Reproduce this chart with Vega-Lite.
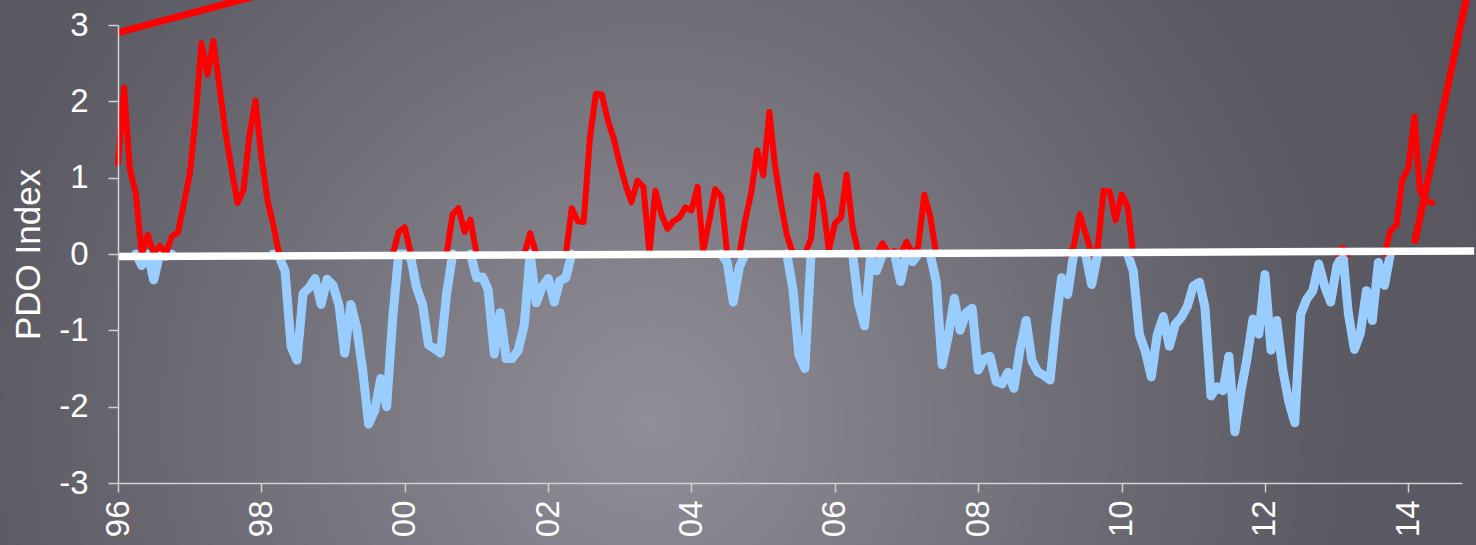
{
  "$schema": "https://vega.github.io/schema/vega-lite/v6.json",
  "width": 1344,
  "height": 458,
  "autosize": {"type": "none"},
  "padding": {"left": 118, "top": 25, "right": 14, "bottom": 62},
  "background": "#5a5860",
  "config": {
    "view": {"stroke": null},
    "axis": {
      "grid": false,
      "domainColor": "#d2d2d2",
      "domainWidth": 1.5,
      "tickColor": "#d2d2d2",
      "tickWidth": 1.5,
      "labelColor": "#ffffff",
      "labelFont": "Liberation Sans",
      "labelFontSize": 33,
      "titleFont": "Liberation Sans",
      "titleColor": "#ffffff",
      "titleFontWeight": "normal"
    }
  },
  "datasets": {
    "pdo": [
      {"date": "1996-01", "red": 1.19}, {"date": "1996-02", "red": 2.18}, {"date": "1996-03", "red": 1.12}, {"date": "1996-04", "red": 0.79, "blue": 0},
      {"date": "1996-05", "red": 0, "blue": -0.15}, {"date": "1996-06", "red": 0.25, "blue": 0}, {"date": "1996-07", "red": 0, "blue": -0.34}, {"date": "1996-08", "red": 0.11, "blue": 0},
      {"date": "1996-09", "red": 0, "blue": -0.03}, {"date": "1996-10", "red": 0.23, "blue": 0}, {"date": "1996-11", "red": 0.28}, {"date": "1996-12", "red": 0.65},
      {"date": "1997-01", "red": 1.05}, {"date": "1997-02", "red": 1.83}, {"date": "1997-03", "red": 2.76}, {"date": "1997-04", "red": 2.35},
      {"date": "1997-05", "red": 2.79}, {"date": "1997-06", "red": 2.19}, {"date": "1997-07", "red": 1.61}, {"date": "1997-08", "red": 1.12},
      {"date": "1997-09", "red": 0.67}, {"date": "1997-10", "red": 0.83}, {"date": "1997-11", "red": 1.56}, {"date": "1997-12", "red": 2.01},
      {"date": "1998-01", "red": 1.27}, {"date": "1998-02", "red": 0.70}, {"date": "1998-03", "red": 0.40, "blue": 0}, {"date": "1998-04", "red": 0, "blue": -0.04},
      {"date": "1998-05", "blue": -0.22}, {"date": "1998-06", "blue": -1.21}, {"date": "1998-07", "blue": -1.39}, {"date": "1998-08", "blue": -0.52},
      {"date": "1998-09", "blue": -0.44}, {"date": "1998-10", "blue": -0.32}, {"date": "1998-11", "blue": -0.66}, {"date": "1998-12", "blue": -0.33},
      {"date": "1999-01", "blue": -0.41}, {"date": "1999-02", "blue": -0.68}, {"date": "1999-03", "blue": -1.30}, {"date": "1999-04", "blue": -0.66},
      {"date": "1999-05", "blue": -0.96}, {"date": "1999-06", "blue": -1.53}, {"date": "1999-07", "blue": -2.23}, {"date": "1999-08", "blue": -2.05},
      {"date": "1999-09", "blue": -1.63}, {"date": "1999-10", "blue": -2.00}, {"date": "1999-11", "red": 0, "blue": -0.83}, {"date": "1999-12", "red": 0.29, "blue": 0},
      {"date": "2000-01", "red": 0.35, "blue": 0}, {"date": "2000-02", "red": 0, "blue": -0.05}, {"date": "2000-03", "blue": -0.44}, {"date": "2000-04", "blue": -0.66},
      {"date": "2000-05", "blue": -1.19}, {"date": "2000-06", "blue": -1.24}, {"date": "2000-07", "blue": -1.30}, {"date": "2000-08", "red": 0, "blue": -0.53},
      {"date": "2000-09", "red": 0.52, "blue": 0}, {"date": "2000-10", "red": 0.60}, {"date": "2000-11", "red": 0.29}, {"date": "2000-12", "red": 0.45, "blue": 0},
      {"date": "2001-01", "red": 0, "blue": -0.31}, {"date": "2001-02", "blue": -0.30}, {"date": "2001-03", "blue": -0.47}, {"date": "2001-04", "blue": -1.31},
      {"date": "2001-05", "blue": -0.77}, {"date": "2001-06", "blue": -1.37}, {"date": "2001-07", "blue": -1.37}, {"date": "2001-08", "blue": -1.26},
      {"date": "2001-09", "red": 0, "blue": -0.93}, {"date": "2001-10", "red": 0.27, "blue": 0}, {"date": "2001-11", "red": 0, "blue": -0.64}, {"date": "2001-12", "blue": -0.43},
      {"date": "2002-01", "blue": -0.32}, {"date": "2002-02", "blue": -0.63}, {"date": "2002-03", "blue": -0.35}, {"date": "2002-04", "red": 0, "blue": -0.31},
      {"date": "2002-05", "red": 0.60, "blue": 0}, {"date": "2002-06", "red": 0.43}, {"date": "2002-07", "red": 0.42}, {"date": "2002-08", "red": 1.51},
      {"date": "2002-09", "red": 2.10}, {"date": "2002-10", "red": 2.09}, {"date": "2002-11", "red": 1.75}, {"date": "2002-12", "red": 1.51},
      {"date": "2003-01", "red": 1.18}, {"date": "2003-02", "red": 0.89}, {"date": "2003-03", "red": 0.68}, {"date": "2003-04", "red": 0.96},
      {"date": "2003-05", "red": 0.88}, {"date": "2003-06", "red": 0.01}, {"date": "2003-07", "red": 0.83}, {"date": "2003-08", "red": 0.52},
      {"date": "2003-09", "red": 0.33}, {"date": "2003-10", "red": 0.43}, {"date": "2003-11", "red": 0.48}, {"date": "2003-12", "red": 0.61},
      {"date": "2004-01", "red": 0.57}, {"date": "2004-02", "red": 0.88}, {"date": "2004-03", "red": 0.04}, {"date": "2004-04", "red": 0.44},
      {"date": "2004-05", "red": 0.85}, {"date": "2004-06", "red": 0.75, "blue": 0}, {"date": "2004-07", "red": 0, "blue": -0.11}, {"date": "2004-08", "blue": -0.63},
      {"date": "2004-09", "red": 0, "blue": -0.17}, {"date": "2004-10", "red": 0.44, "blue": 0}, {"date": "2004-11", "red": 0.81}, {"date": "2004-12", "red": 1.36},
      {"date": "2005-01", "red": 1.03}, {"date": "2005-02", "red": 1.86}, {"date": "2005-03", "red": 1.17}, {"date": "2005-04", "red": 0.66},
      {"date": "2005-05", "red": 0.25, "blue": 0}, {"date": "2005-06", "red": 0, "blue": -0.46}, {"date": "2005-07", "blue": -1.32}, {"date": "2005-08", "red": 0, "blue": -1.50},
      {"date": "2005-09", "red": 0.20, "blue": 0}, {"date": "2005-10", "red": 1.03}, {"date": "2005-11", "red": 0.66}, {"date": "2005-12", "red": 0.05},
      {"date": "2006-01", "red": 0.40}, {"date": "2006-02", "red": 0.48}, {"date": "2006-03", "red": 1.04}, {"date": "2006-04", "red": 0.35, "blue": 0},
      {"date": "2006-05", "red": 0, "blue": -0.65}, {"date": "2006-06", "blue": -0.94}, {"date": "2006-07", "blue": -0.05}, {"date": "2006-08", "red": 0, "blue": -0.22},
      {"date": "2006-09", "red": 0.14, "blue": 0}, {"date": "2006-10", "red": 0.01}, {"date": "2006-11", "red": 0.04, "blue": 0}, {"date": "2006-12", "red": 0, "blue": -0.36},
      {"date": "2007-01", "red": 0.16, "blue": 0}, {"date": "2007-02", "red": 0, "blue": -0.10}, {"date": "2007-03", "red": 0.09, "blue": 0}, {"date": "2007-04", "red": 0.78},
      {"date": "2007-05", "red": 0.50, "blue": 0}, {"date": "2007-06", "red": 0, "blue": -0.36}, {"date": "2007-07", "blue": -1.45}, {"date": "2007-08", "blue": -1.08},
      {"date": "2007-09", "blue": -0.58}, {"date": "2007-10", "blue": -1.00}, {"date": "2007-11", "blue": -0.77}, {"date": "2007-12", "blue": -0.71},
      {"date": "2008-01", "blue": -1.52}, {"date": "2008-02", "blue": -1.37}, {"date": "2008-03", "blue": -1.34}, {"date": "2008-04", "blue": -1.67},
      {"date": "2008-05", "blue": -1.70}, {"date": "2008-06", "blue": -1.55}, {"date": "2008-07", "blue": -1.76}, {"date": "2008-08", "blue": -1.25},
      {"date": "2008-09", "blue": -0.87}, {"date": "2008-10", "blue": -1.40}, {"date": "2008-11", "blue": -1.55}, {"date": "2008-12", "blue": -1.59},
      {"date": "2009-01", "blue": -1.65}, {"date": "2009-02", "blue": -0.88}, {"date": "2009-03", "blue": -0.31}, {"date": "2009-04", "red": 0, "blue": -0.53},
      {"date": "2009-05", "red": 0.09, "blue": 0}, {"date": "2009-06", "red": 0.52}, {"date": "2009-07", "red": 0.27, "blue": 0}, {"date": "2009-08", "red": 0, "blue": -0.40},
      {"date": "2009-09", "red": 0.08, "blue": 0}, {"date": "2009-10", "red": 0.83}, {"date": "2009-11", "red": 0.82}, {"date": "2009-12", "red": 0.44},
      {"date": "2010-01", "red": 0.78}, {"date": "2010-02", "red": 0.62, "blue": 0}, {"date": "2010-03", "red": 0, "blue": -0.22}, {"date": "2010-04", "blue": -1.05},
      {"date": "2010-05", "blue": -1.27}, {"date": "2010-06", "blue": -1.61}, {"date": "2010-07", "blue": -1.06}, {"date": "2010-08", "blue": -0.82},
      {"date": "2010-09", "blue": -1.21}, {"date": "2010-10", "blue": -0.92}, {"date": "2010-11", "blue": -0.83}, {"date": "2010-12", "blue": -0.69},
      {"date": "2011-01", "blue": -0.42}, {"date": "2011-02", "blue": -0.37}, {"date": "2011-03", "blue": -0.69}, {"date": "2011-04", "blue": -1.86},
      {"date": "2011-05", "blue": -1.74}, {"date": "2011-06", "blue": -1.79}, {"date": "2011-07", "blue": -1.34}, {"date": "2011-08", "blue": -2.33},
      {"date": "2011-09", "blue": -1.79}, {"date": "2011-10", "blue": -1.38}, {"date": "2011-11", "blue": -0.85}, {"date": "2011-12", "blue": -1.05},
      {"date": "2012-01", "blue": -0.27}, {"date": "2012-02", "blue": -1.26}, {"date": "2012-03", "blue": -0.87}, {"date": "2012-04", "blue": -1.52},
      {"date": "2012-05", "blue": -1.93}, {"date": "2012-06", "blue": -2.21}, {"date": "2012-07", "blue": -0.79}, {"date": "2012-08", "blue": -0.59},
      {"date": "2012-09", "blue": -0.48}, {"date": "2012-10", "blue": -0.13}, {"date": "2012-11", "blue": -0.43}, {"date": "2012-12", "blue": -0.63},
      {"date": "2013-01", "red": 0, "blue": -0.16}, {"date": "2013-02", "red": 0.08, "blue": 0}, {"date": "2013-03", "red": 0, "blue": -0.78}, {"date": "2013-04", "blue": -1.25},
      {"date": "2013-05", "blue": -1.04}, {"date": "2013-06", "blue": -0.48}, {"date": "2013-07", "blue": -0.87}, {"date": "2013-08", "blue": -0.11},
      {"date": "2013-09", "red": 0, "blue": -0.41}, {"date": "2013-10", "red": 0.30, "blue": 0}, {"date": "2013-11", "red": 0.38}, {"date": "2013-12", "red": 0.97},
      {"date": "2014-01", "red": 1.13}, {"date": "2014-02", "red": 1.80}, {"date": "2014-03", "red": 0.82}, {"date": "2014-04", "red": 0.70},
      {"date": "2014-05", "red": 0.67}
    ],
    "zero": [
      {"date": "1996-01-01", "v": -0.034},
      {"date": "2014-12-02", "v": 0.039}
    ],
    "trend": [
      {"seg": "a", "date": "1996-01-01", "v": 2.90},
      {"seg": "a", "date": "1998-01-01", "v": 3.40},
      {"seg": "b", "date": "2014-02-01", "v": 0.14},
      {"seg": "b", "date": "2014-11-01", "v": 3.45}
    ]
  },
  "data": {"name": "pdo"},
  "layer": [
    {
      "data": {"values": [{}]},
      "mark": {
        "type": "rect",
        "fill": {
          "gradient": "radial",
          "x1": 0.44, "y1": 0.6, "r1": 0,
          "x2": 0.44, "y2": 0.6, "r2": 0.65,
          "stops": [
            {"offset": 0, "color": "#918e97"},
            {"offset": 0.42, "color": "#706e76"},
            {"offset": 0.7, "color": "#5c5a62"},
            {"offset": 1, "color": "#56545c"}
          ]
        },
        "stroke": null
      },
      "encoding": {
        "x": {
          "datum": {"year": 1994, "month": 5, "date": 10, "utc": true},
          "type": "temporal",
          "scale": {
            "type": "utc",
            "domain": [
              {"year": 1996, "month": 1, "date": 1, "utc": true},
              {"year": 2014, "month": 10, "date": 1, "utc": true}
            ]
          },
          "axis": {
            "zindex": 2,
            "title": null,
            "values": [
              {"year": 1996, "utc": true}, {"year": 1998, "utc": true}, {"year": 2000, "utc": true},
              {"year": 2002, "utc": true}, {"year": 2004, "utc": true}, {"year": 2006, "utc": true},
              {"year": 2008, "utc": true}, {"year": 2010, "utc": true}, {"year": 2012, "utc": true},
              {"year": 2014, "utc": true}
            ],
            "labelExpr": "utcFormat(datum.value, '%y')",
            "labelAngle": -90,
            "tickSize": 9,
            "labelPadding": 8,
            "labelOverlap": false
          }
        },
        "x2": {"datum": {"year": 2014, "month": 12, "date": 14, "utc": true}},
        "y": {
          "datum": 3.33,
          "type": "quantitative",
          "scale": {"domain": [-3, 3], "nice": false, "zero": false},
          "axis": {
            "zindex": 2,
            "values": [-3, -2, -1, 0, 1, 2, 3],
            "labelExpr": "datum.value < 0 ? '-' + abs(datum.value) : '' + datum.value",
            "title": "PDO Index",
            "titleFontSize": 35,
            "titlePadding": 12,
            "tickSize": 10,
            "labelPadding": 20
          }
        },
        "y2": {"datum": -3.82}
      }
    },
    {
      "mark": {"type": "line", "color": "#99ccff", "strokeWidth": 9, "strokeJoin": "round", "strokeCap": "round", "invalid": "break-paths-show-domains"},
      "encoding": {
        "x": {"field": "date", "type": "temporal"},
        "y": {"field": "blue", "type": "quantitative"}
      }
    },
    {
      "mark": {"type": "line", "color": "#ff0000", "strokeWidth": 6, "strokeJoin": "round", "strokeCap": "round", "invalid": "break-paths-show-domains"},
      "encoding": {
        "x": {"field": "date", "type": "temporal"},
        "y": {"field": "red", "type": "quantitative"}
      }
    },
    {
      "data": {"name": "zero"},
      "mark": {"type": "line", "color": "#ffffff", "strokeWidth": 7.5, "strokeCap": "butt"},
      "encoding": {
        "x": {"field": "date", "type": "temporal"},
        "y": {"field": "v", "type": "quantitative"}
      }
    },
    {
      "data": {"name": "trend"},
      "mark": {"type": "line", "color": "#ff0000", "strokeWidth": 7, "strokeCap": "butt"},
      "encoding": {
        "x": {"field": "date", "type": "temporal"},
        "y": {"field": "v", "type": "quantitative"},
        "detail": {"field": "seg", "type": "nominal"}
      }
    }
  ]
}
